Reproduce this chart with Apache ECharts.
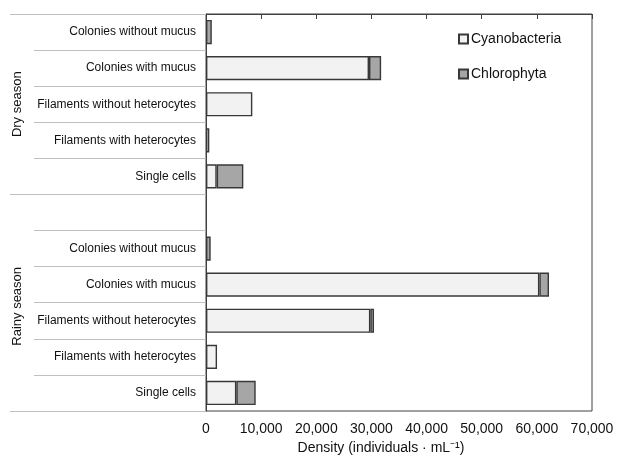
<!DOCTYPE html>
<html>
<head>
<meta charset="utf-8">
<script src="https://cdn.jsdelivr.net/npm/echarts@6/dist/echarts.min.js"></script>
<style>html,body{margin:0;padding:0;background:#fff}#c{width:617px;height:465px}</style>
</head>
<body>
<div id="c"></div>
<script>
// Rows top to bottom: dry season (5), spacer, rainy season (5)
const rowLabels = [
  'Colonies without mucus', 'Colonies with mucus', 'Filaments without heterocytes', 'Filaments with heterocytes', 'Single cells',
  '',
  'Colonies without mucus', 'Colonies with mucus', 'Filaments without heterocytes', 'Filaments with heterocytes', 'Single cells'
];
const seasonLabels = ['Dry season', 'Rainy season'];
const cyanobacteria = ['-', 29560, 8400, 600, 1940, '-', '-', 60450, 29800, 2000, 5500];
const chlorophyta = [1050, 2200, '-', '-', 4830, '-', 850, 1750, 670, '-', 3510];
const xTicks = [0, 10000, 20000, 30000, 40000, 50000, 60000, 70000];

const FONT = 'Liberation Sans, Arial, sans-serif';
const chart = echarts.init(document.getElementById('c'), null, {renderer: 'canvas'});
const rowIdx = rowLabels.map((_, i) => i);

chart.setOption({
  animation: false,
  textStyle: {fontFamily: FONT},
  grid: {left: 206, right: 25, top: 14, bottom: 54, show: true, borderColor: '#404040', borderWidth: 1},
  legend: {
    orient: 'vertical', left: 453, top: 27, itemWidth: 9, itemHeight: 9, itemGap: 21,
    icon: 'rect',
    textStyle: {fontSize: 14, color: '#111', fontFamily: FONT, padding: [0, 0, 0, -2]},
    data: ['Cyanobacteria', 'Chlorophyta']
  },
  xAxis: {
    type: 'value', min: xTicks[0], max: xTicks[xTicks.length - 1], interval: 10000,
    axisLine: {show: true, lineStyle: {color: '#404040', width: 1}},
    axisTick: {show: true, length: 5, lineStyle: {color: '#404040'}},
    splitLine: {show: false},
    axisLabel: {fontSize: 14, color: '#111', margin: 11, fontFamily: FONT,
      formatter: v => v.toLocaleString('en-US')},
    name: 'Density (individuals · mL⁻¹)', nameLocation: 'middle', nameGap: 29,
    nameTextStyle: {fontSize: 14, color: '#111', fontFamily: FONT, padding: [0, 36, 0, 0]}
  },
  yAxis: [
    {
      type: 'category', inverse: true, data: rowIdx,
      axisLine: {show: true, lineStyle: {color: '#404040', width: 1}},
      axisTick: {show: true, length: 172, lineStyle: {color: '#c0c0c0'}},
      axisLabel: {fontSize: 12, color: '#111', margin: 10, fontFamily: FONT,
        formatter: (v, i) => rowLabels[+v]}
    },
    {
      type: 'value', inverse: true, min: 0, max: rowLabels.length, position: 'left',
      axisLine: {show: false}, splitLine: {show: false},
      axisTick: {show: true, length: 196, customValues: [0, 5, rowLabels.length], lineStyle: {color: '#c0c0c0'}},
      axisLabel: {show: true, customValues: [2.5, 8.1], rotate: 90, fontSize: 13, color: '#111', margin: 182, fontFamily: FONT,
        formatter: v => v < 5 ? seasonLabels[0] : seasonLabels[1]}
    }
  ],
  series: [
    {
      name: 'Cyanobacteria', type: 'bar', stack: 'total', yAxisIndex: 0, data: cyanobacteria,
      barCategoryGap: '33%',
      itemStyle: {color: '#f2f2f2', borderColor: '#383838', borderWidth: 1.4}
    },
    {
      name: 'Chlorophyta', type: 'bar', stack: 'total', yAxisIndex: 0, data: chlorophyta,
      barCategoryGap: '33%',
      itemStyle: {color: '#a6a6a6', borderColor: '#383838', borderWidth: 1.4}
    }
  ]
});
</script>
</body>
</html>
